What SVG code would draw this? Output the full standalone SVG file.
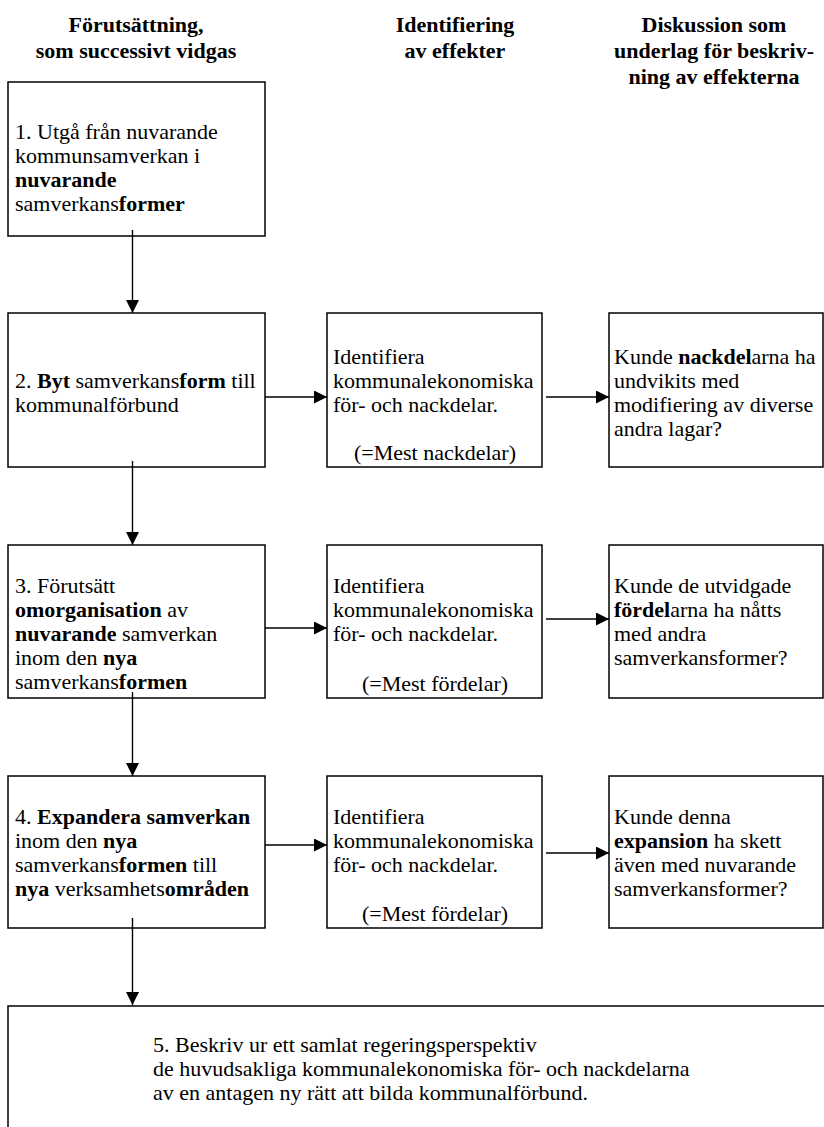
<svg xmlns="http://www.w3.org/2000/svg" width="824" height="1127" viewBox="0 0 824 1127" font-family="'Liberation Serif', 'Times New Roman', serif">
  <style>
    text { font-family: "Liberation Serif", "Times New Roman", serif; font-size: 22px; fill: #000; }
    .h { font-weight: bold; text-anchor: middle; }
    .b { font-weight: bold; }
    .c { text-anchor: middle; }
    .box { fill: #fff; stroke: #000; stroke-width: 1.5; }
    .edge { fill: none; stroke: #000; stroke-width: 1.4; marker-end: url(#arrow); }
  </style>
  <defs>
    <marker id="arrow" markerWidth="13" markerHeight="13" refX="13" refY="6.5" orient="auto" markerUnits="userSpaceOnUse">
      <path d="M0,0 L13,6.5 L0,13 z" fill="#000"/>
    </marker>
  </defs>
  <rect width="824" height="1127" fill="#fff"/>

  <!-- column headings -->
  <g id="headings">
    <text class="h" x="136" y="32">Förutsättning,</text>
    <text class="h" x="136" y="58">som successivt vidgas</text>
    <text class="h" x="455" y="32">Identifiering</text>
    <text class="h" x="455" y="58">av effekter</text>
    <text class="h" x="714" y="32">Diskussion som</text>
    <text class="h" x="714" y="58">underlag för beskriv-</text>
    <text class="h" x="714" y="84">ning av effekterna</text>
  </g>

  <!-- step 1 -->
  <g id="step1">
    <rect class="box" x="8" y="82" width="257" height="154"/>
    <text x="15" y="139">1. Utgå från nuvarande</text>
    <text x="15" y="163">kommunsamverkan i</text>
    <text x="15" y="187" class="b">nuvarande</text>
    <text x="15" y="211">samverkans<tspan class="b">former</tspan></text>
  </g>

  <!-- step 2 row -->
  <g id="step2">
    <rect class="box" x="8" y="313" width="257" height="154"/>
    <text x="15" y="388">2. <tspan class="b">Byt</tspan> samverkans<tspan class="b">form</tspan> till</text>
    <text x="15" y="412">kommunalförbund</text>
  </g>
  <g id="ident2">
    <rect class="box" x="327" y="313" width="215" height="154"/>
    <text x="333" y="364">Identifiera</text>
    <text x="333" y="388">kommunalekonomiska</text>
    <text x="333" y="412">för- och nackdelar.</text>
    <text class="c" x="435" y="460">(=Mest nackdelar)</text>
  </g>
  <g id="disc2">
    <rect class="box" x="609" y="313" width="214" height="154"/>
    <text x="614" y="364">Kunde <tspan class="b">nackdel</tspan>arna ha</text>
    <text x="614" y="388">undvikits med</text>
    <text x="614" y="412">modifiering av diverse</text>
    <text x="614" y="436">andra lagar?</text>
  </g>

  <!-- step 3 row -->
  <g id="step3">
    <rect class="box" x="8" y="545" width="257" height="153"/>
    <text x="15" y="593">3. Förutsätt</text>
    <text x="15" y="617"><tspan class="b">omorganisation</tspan> av</text>
    <text x="15" y="641"><tspan class="b">nuvarande</tspan> samverkan</text>
    <text x="15" y="665">inom den <tspan class="b">nya</tspan></text>
    <text x="15" y="689">samverkans<tspan class="b">formen</tspan></text>
  </g>
  <g id="ident3">
    <rect class="box" x="327" y="545" width="215" height="153"/>
    <text x="333" y="593">Identifiera</text>
    <text x="333" y="617">kommunalekonomiska</text>
    <text x="333" y="641">för- och nackdelar.</text>
    <text class="c" x="435" y="691">(=Mest fördelar)</text>
  </g>
  <g id="disc3">
    <rect class="box" x="609" y="545" width="214" height="153"/>
    <text x="614" y="593">Kunde de utvidgade</text>
    <text x="614" y="617"><tspan class="b">fördel</tspan>arna ha nåtts</text>
    <text x="614" y="641">med andra</text>
    <text x="614" y="665">samverkansformer?</text>
  </g>

  <!-- step 4 row -->
  <g id="step4">
    <rect class="box" x="8" y="776" width="257" height="152"/>
    <text x="15" y="824">4. <tspan class="b">Expandera samverkan</tspan></text>
    <text x="15" y="848">inom den <tspan class="b">nya</tspan></text>
    <text x="15" y="872">samverkans<tspan class="b">formen</tspan> till</text>
    <text x="15" y="896"><tspan class="b">nya</tspan> verksamhets<tspan class="b">områden</tspan></text>
  </g>
  <g id="ident4">
    <rect class="box" x="327" y="776" width="215" height="152"/>
    <text x="333" y="824">Identifiera</text>
    <text x="333" y="848">kommunalekonomiska</text>
    <text x="333" y="872">för- och nackdelar.</text>
    <text class="c" x="435" y="921">(=Mest fördelar)</text>
  </g>
  <g id="disc4">
    <rect class="box" x="609" y="776" width="214" height="152"/>
    <text x="614" y="824">Kunde denna</text>
    <text x="614" y="848"><tspan class="b">expansion</tspan> ha skett</text>
    <text x="614" y="872">även med nuvarande</text>
    <text x="614" y="896">samverkansformer?</text>
  </g>

  <!-- step 5 (runs past the lower page edge) -->
  <g id="step5">
    <rect class="box" x="8" y="1006" width="830" height="140"/>
    <text x="153" y="1052">5. Beskriv ur ett samlat regeringsperspektiv</text>
    <text x="153" y="1076">de huvudsakliga kommunalekonomiska för- och nackdelarna</text>
    <text x="153" y="1100">av en antagen ny rätt att bilda kommunalförbund.</text>
  </g>

  <!-- connectors -->
  <g id="connectors">
    <line class="edge" x1="132.5" y1="230" x2="132.5" y2="313"/>
    <line class="edge" x1="132.5" y1="461" x2="132.5" y2="545"/>
    <line class="edge" x1="132.5" y1="692" x2="132.5" y2="776"/>
    <line class="edge" x1="132.5" y1="918" x2="132.5" y2="1005"/>
    <line class="edge" x1="265" y1="397" x2="327" y2="397"/>
    <line class="edge" x1="546" y1="397" x2="609" y2="397"/>
    <line class="edge" x1="265" y1="628" x2="327" y2="628"/>
    <line class="edge" x1="546" y1="619" x2="609" y2="619"/>
    <line class="edge" x1="265" y1="845" x2="327" y2="845"/>
    <line class="edge" x1="546" y1="853" x2="609" y2="853"/>
  </g>
</svg>
